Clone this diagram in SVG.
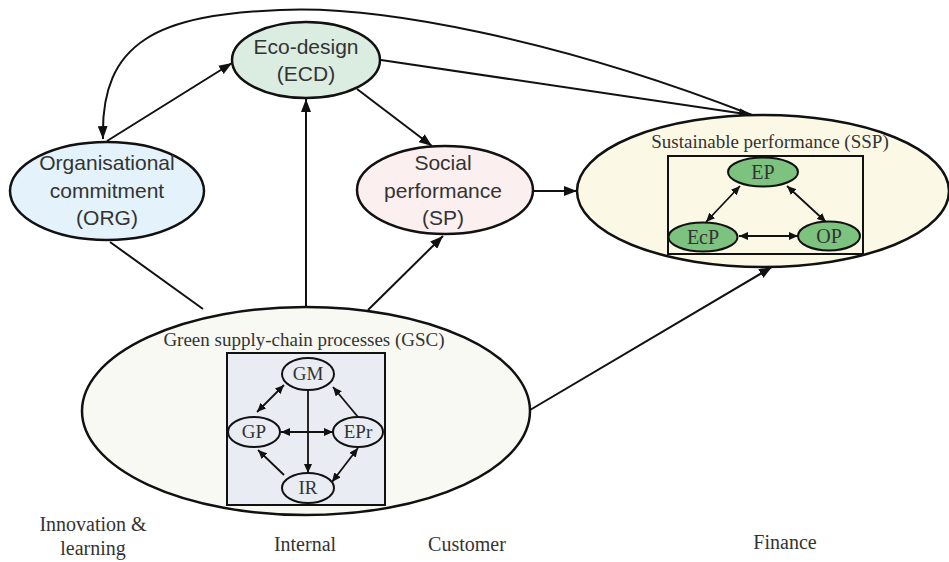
<svg xmlns="http://www.w3.org/2000/svg" width="949" height="562" viewBox="0 0 949 562">
<style>
.node{stroke:#111;stroke-width:2.5}
.sub{stroke:#111;stroke-width:2}
.sans{font-family:"Liberation Sans",Arial,sans-serif;font-size:21px;fill:#333;text-anchor:middle}
.serif{font-family:"Liberation Serif","Times New Roman",serif;fill:#333;text-anchor:middle}
.conn{stroke:#111;stroke-width:2;fill:none}
.in{stroke:#111;stroke-width:1.8;fill:none}
</style>
<defs>
<marker id="a" markerUnits="userSpaceOnUse" markerWidth="13" markerHeight="10" refX="13" refY="5" orient="auto-start-reverse"><path d="M0,0 L13,5 L0,10 z" fill="#111"/></marker>
<marker id="s" markerUnits="userSpaceOnUse" markerWidth="9" markerHeight="8" refX="9" refY="4" orient="auto-start-reverse"><path d="M0,0 L9,4 L0,8 z" fill="#111"/></marker>
</defs>
<rect width="949" height="562" fill="#fff"/>

<g id="connectors">
<path class="conn" d="M752,115 C560,40 380,5 280,10 C160,15 100,40 103,139" marker-end="url(#a)"/>
<line class="conn" x1="381" y1="60" x2="752" y2="115" marker-end="url(#a)"/>
<line class="conn" x1="107" y1="141" x2="232" y2="63" marker-end="url(#a)"/>
<line class="conn" x1="357" y1="89" x2="432" y2="146" marker-end="url(#a)"/>
<line class="conn" x1="306" y1="307" x2="306" y2="99" marker-end="url(#a)"/>
<line class="conn" x1="110" y1="242" x2="203" y2="309"/>
<line class="conn" x1="368" y1="310" x2="443" y2="236" marker-end="url(#a)"/>
<line class="conn" x1="533" y1="191" x2="577" y2="191" marker-end="url(#a)"/>
<line class="conn" x1="530" y1="410" x2="772" y2="267" marker-end="url(#a)"/>
</g>

<g id="ECD">
<ellipse class="node" cx="306" cy="60" rx="74" ry="38" fill="#dbece1"/>
<text class="sans" x="306" y="54">Eco-design</text>
<text class="sans" x="306" y="81">(ECD)</text>
</g>

<g id="ORG">
<ellipse class="node" cx="107" cy="191" rx="97" ry="49" fill="#e4f2fb"/>
<text class="sans" x="107" y="170">Organisational</text>
<text class="sans" x="107" y="198">commitment</text>
<text class="sans" x="107" y="225">(ORG)</text>
</g>

<g id="SP">
<ellipse class="node" cx="445" cy="190" rx="88" ry="44" fill="#fbf0ef"/>
<text class="sans" x="443" y="170">Social</text>
<text class="sans" x="443" y="198">performance</text>
<text class="sans" x="443" y="225">(SP)</text>
</g>

<g id="SSP">
<ellipse class="node" cx="763" cy="191" rx="186" ry="76" fill="#fbf9e6"/>
<text class="serif" x="770" y="148" font-size="19">Sustainable performance (SSP)</text>
<rect class="sub" x="668" y="156" width="195" height="98" fill="#fbf9e6"/>
<line class="in" x1="740" y1="186" x2="706" y2="222" marker-start="url(#s)" marker-end="url(#s)"/>
<line class="in" x1="787" y1="186" x2="826" y2="222" marker-start="url(#s)" marker-end="url(#s)"/>
<line class="in" x1="739" y1="236" x2="798" y2="236" marker-start="url(#s)" marker-end="url(#s)"/>
<g id="EP"><ellipse class="sub" cx="763" cy="172" rx="35" ry="14.5" fill="#7dc27e"/><text class="serif" x="763" y="179" font-size="20">EP</text></g>
<g id="EcP"><ellipse class="sub" cx="703" cy="237" rx="34.5" ry="14.5" fill="#7dc27e"/><text class="serif" x="703" y="244" font-size="20">EcP</text></g>
<g id="OP"><ellipse class="sub" cx="829" cy="236" rx="31" ry="14.5" fill="#7dc27e"/><text class="serif" x="829" y="243" font-size="20">OP</text></g>
</g>

<g id="GSC">
<ellipse class="node" cx="306" cy="411" rx="224" ry="104" fill="#f9f9f4"/>
<text class="serif" x="304" y="346" font-size="19">Green supply-chain processes (GSC)</text>
<rect class="sub" x="227" y="353" width="158" height="152" fill="#e9ecf3"/>
<line class="in" x1="284" y1="385" x2="257" y2="412" marker-start="url(#s)" marker-end="url(#s)"/>
<line class="in" x1="308" y1="390" x2="308" y2="473" marker-end="url(#s)"/>
<line class="in" x1="358" y1="417" x2="333" y2="387" marker-end="url(#s)"/>
<line class="in" x1="281" y1="432" x2="333" y2="432" marker-start="url(#s)" marker-end="url(#s)"/>
<line class="in" x1="284" y1="475" x2="258" y2="450" marker-end="url(#s)"/>
<line class="in" x1="332" y1="482" x2="358" y2="448" marker-start="url(#s)" marker-end="url(#s)"/>
<g id="GM"><ellipse class="sub" cx="308" cy="374" rx="26" ry="16" fill="#e9ecf3"/><text class="serif" x="308" y="380" font-size="19">GM</text></g>
<g id="GP"><ellipse class="sub" cx="254" cy="432" rx="26" ry="15" fill="#e9ecf3"/><text class="serif" x="254" y="438" font-size="19">GP</text></g>
<g id="EPr"><ellipse class="sub" cx="358" cy="432" rx="25" ry="15" fill="#e9ecf3"/><text class="serif" x="358" y="438" font-size="19">EPr</text></g>
<g id="IR"><ellipse class="sub" cx="308" cy="488" rx="26" ry="15" fill="#e9ecf3"/><text class="serif" x="308" y="494" font-size="19">IR</text></g>
</g>

<g id="labels">
<text class="serif" x="93" y="531" font-size="20">Innovation &amp;</text>
<text class="serif" x="93" y="555" font-size="20">learning</text>
<text class="serif" x="305" y="551" font-size="20">Internal</text>
<text class="serif" x="467" y="551" font-size="20">Customer</text>
<text class="serif" x="785" y="549" font-size="20">Finance</text>
</g>
</svg>
